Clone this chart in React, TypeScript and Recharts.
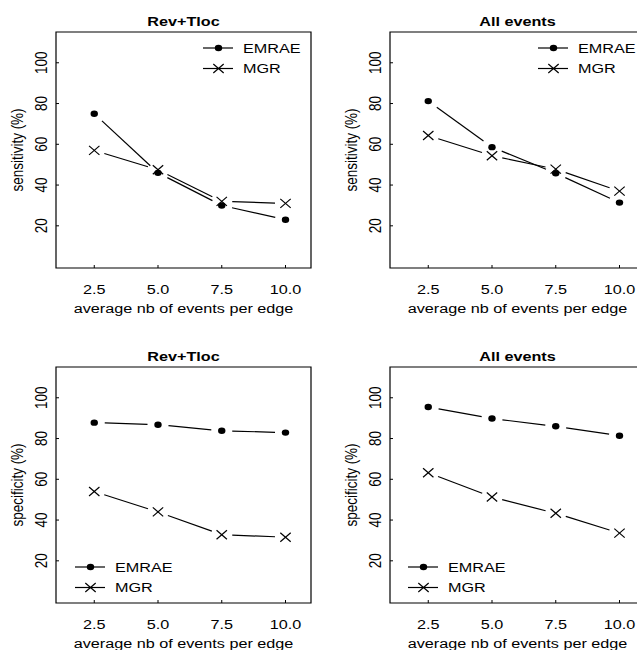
import React from 'react';
import { LineChart, Line, XAxis, YAxis, ReferenceArea, Legend } from 'recharts';

// x positions (average nb of events per edge)
const xValues = [2.5, 5.0, 7.5, 10.0];
const xTicks = [2.5, 5.0, 7.5, 10.0];
const yTicks = [20, 40, 60, 80, 100];
const seriesNames = ['EMRAE', 'MGR'];

// sensitivity (%)
const sensRevEmrae = [75, 46, 30, 23];
const sensRevMgr = [57, 47.5, 32, 31];
const sensAllEmrae = [81.2, 58.6, 45.8, 31.4];
const sensAllMgr = [64.3, 54.4, 47.8, 37];

// specificity (%)
const specRevEmrae = [87.8, 86.8, 83.8, 82.9];
const specRevMgr = [54, 44, 32.8, 31.6];
const specAllEmrae = [95.5, 89.8, 86, 81.4];
const specAllMgr = [63.2, 51.3, 43.3, 33.6];

const FONT = '"Liberation Sans", Arial, Helvetica, sans-serif';
const W = 318;
const H = 325;
const M_TOP = 32;
const Y_AXIS_W = 56;
const M_RIGHT = 7;
const X_AXIS_H = 57;
const BOX_LEFT = Y_AXIS_W;
const BOX_RIGHT = W - M_RIGHT;
const BOX_TOP = M_TOP;
const BOX_BOTTOM = H - X_AXIS_H;
const X_DOMAIN: [number, number] = [1, 11];
const Y_DOMAIN: [number, number] = [-0.7, 115.1];
const STRETCH = 1.2; // the original figure is a bit wider than tall
const GAP = 10.5;

function SText({ x, y, children, anchor = 'middle', rotate = false, bold = false }: any) {
  return (
    <text
      transform={`translate(${x},${y}) scale(${STRETCH},1)${rotate ? ' rotate(-90)' : ''}`}
      textAnchor={anchor}
      fontFamily={FONT}
      fontSize={13.5}
      fontWeight={bold ? 'bold' : 'normal'}
      fill="#000"
    >
      {children}
    </text>
  );
}

function Marker({ kind, cx, cy }: { kind: string; cx: number; cy: number }) {
  if (kind === 'dot') {
    return <ellipse cx={cx} cy={cy} rx={3.7} ry={3.2} fill="#000" stroke="none" />;
  }
  const hx = 5.2;
  const hy = 4.5;
  return (
    <g stroke="#000" strokeWidth={1.2}>
      <line x1={cx - hx} y1={cy - hy} x2={cx + hx} y2={cy + hy} />
      <line x1={cx - hx} y1={cy + hy} x2={cx + hx} y2={cy - hy} />
    </g>
  );
}

// R type="b": marker plus a segment to the next point, with a gap at both ends
const makeDot = (kind: string) => (props: any) => {
  const { cx, cy, index, points } = props;
  if (cx == null || cy == null) return <g key={`${kind}-${index}`} />;
  let seg = null;
  if (Array.isArray(points) && index < points.length - 1) {
    const n = points[index + 1];
    const dx = n.x - cx;
    const dy = n.y - cy;
    const len = Math.hypot(dx, dy);
    if (len > 2 * GAP) {
      const ux = dx / len;
      const uy = dy / len;
      seg = (
        <line
          x1={cx + ux * GAP}
          y1={cy + uy * GAP}
          x2={n.x - ux * GAP}
          y2={n.y - uy * GAP}
          stroke="#000"
          strokeWidth={1.2}
        />
      );
    }
  }
  return (
    <g key={`${kind}-${index}`}>
      {seg}
      <Marker kind={kind} cx={cx} cy={cy} />
    </g>
  );
};

const XTick = ({ x, payload }: any) => (
  <g>
    <line x1={x} x2={x} y1={BOX_BOTTOM} y2={BOX_BOTTOM - 3} stroke="#000" />
    <SText x={x} y={BOX_BOTTOM + 26}>{Number(payload.value).toFixed(1)}</SText>
  </g>
);

const YTick = ({ y, payload }: any) => (
  <g>
    <line x1={BOX_LEFT} x2={BOX_LEFT + 3} y1={y} y2={y} stroke="#000" />
    <SText x={BOX_LEFT - 9} y={y} rotate>{payload.value}</SText>
  </g>
);

const renderLegend = (props: any) => {
  const items = props.payload || [];
  return (
    <svg width={130} height={42} style={{ display: 'block' }}>
      {items.map((it: any, i: number) => {
        const y = 10 + i * 20.5;
        return (
          <g key={it.value}>
            <line x1={0} x2={30} y1={y} y2={y} stroke="#000" strokeWidth={1.2} />
            <Marker kind={it.value === 'EMRAE' ? 'dot' : 'cross'} cx={15.5} cy={y} />
            <SText x={40} y={y + 4.8} anchor="start">{it.value}</SText>
          </g>
        );
      })}
    </svg>
  );
};

function Panel({ title, ylabel, emrae, mgr, legendLeft, legendTop }: any) {
  const data = xValues.map((x, i) => ({ x, emrae: emrae[i], mgr: mgr[i] }));
  return (
    <LineChart width={W} height={H} data={data} margin={{ top: M_TOP, right: M_RIGHT, bottom: 0, left: 0 }}>
      <XAxis
        dataKey="x"
        type="number"
        domain={X_DOMAIN}
        ticks={xTicks}
        height={X_AXIS_H}
        axisLine={false}
        tickLine={false}
        tick={<XTick />}
        label={{
          content: () => (
            <SText x={(BOX_LEFT + BOX_RIGHT) / 2} y={BOX_BOTTOM + 45}>
              average nb of events per edge
            </SText>
          ),
        }}
      />
      <YAxis
        type="number"
        domain={Y_DOMAIN}
        ticks={yTicks}
        width={Y_AXIS_W}
        axisLine={false}
        tickLine={false}
        tick={<YTick />}
        allowDataOverflow
        label={{
          content: () => (
            <SText x={23} y={(BOX_TOP + BOX_BOTTOM) / 2} rotate>
              {ylabel}
            </SText>
          ),
        }}
      />
      <ReferenceArea
        x1={X_DOMAIN[0]}
        x2={X_DOMAIN[1]}
        y1={Y_DOMAIN[0]}
        y2={Y_DOMAIN[1]}
        fill="none"
        fillOpacity={0}
        stroke="#000"
        strokeWidth={1.2}
        ifOverflow="visible"
        label={{
          content: () => (
            <SText x={(BOX_LEFT + BOX_RIGHT) / 2} y={BOX_TOP - 6} bold>
              {title}
            </SText>
          ),
        }}
      />
      <Legend
        layout="horizontal"
        verticalAlign="middle"
        align="center"
        content={renderLegend}
        wrapperStyle={{ position: 'absolute', left: legendLeft, top: legendTop, width: 130, height: 42 }}
      />
      <Line
        dataKey="emrae"
        name={seriesNames[0]}
        stroke="#000"
        strokeWidth={0}
        dot={makeDot('dot')}
        activeDot={false}
        isAnimationActive={false}
      />
      <Line
        dataKey="mgr"
        name={seriesNames[1]}
        stroke="#000"
        strokeWidth={0}
        dot={makeDot('cross')}
        activeDot={false}
        isAnimationActive={false}
      />
    </LineChart>
  );
}

export default function App() {
  const pos = (left: number, top: number): React.CSSProperties => ({ position: 'absolute', left, top });
  return (
    <div
      style={{
        position: 'absolute',
        left: 0,
        top: 0,
        width: 637,
        height: 650,
        overflow: 'hidden',
        background: '#fff',
      }}
    >
      <div style={pos(0, 0)}>
        <Panel title="Rev+Tloc" ylabel="sensitivity (%)" emrae={sensRevEmrae} mgr={sensRevMgr} legendLeft={203} legendTop={38} />
      </div>
      <div style={pos(334, 0)}>
        <Panel title="All events" ylabel="sensitivity (%)" emrae={sensAllEmrae} mgr={sensAllMgr} legendLeft={204} legendTop={38} />
      </div>
      <div style={pos(0, 335)}>
        <Panel title="Rev+Tloc" ylabel="specificity (%)" emrae={specRevEmrae} mgr={specRevMgr} legendLeft={75} legendTop={222} />
      </div>
      <div style={pos(334, 335)}>
        <Panel title="All events" ylabel="specificity (%)" emrae={specAllEmrae} mgr={specAllMgr} legendLeft={74} legendTop={222} />
      </div>
    </div>
  );
}
